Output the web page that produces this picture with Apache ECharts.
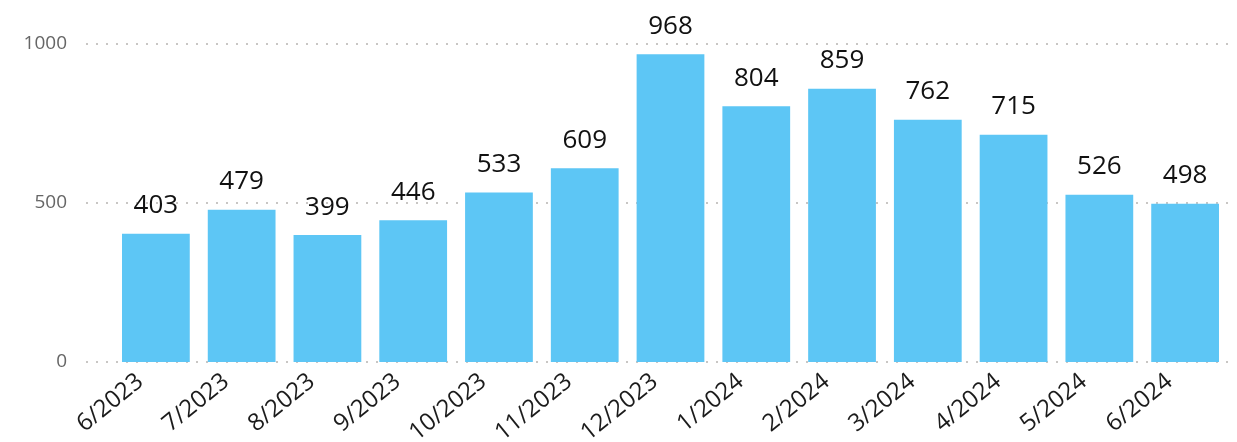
<!DOCTYPE html>
<html>
<head>
<meta charset="utf-8">
<script src="https://cdn.jsdelivr.net/npm/echarts@6/dist/echarts.min.js"></script>
<style>
  html, body { margin: 0; padding: 0; background: #fff; }
</style>
</head>
<body>
<div id="chart" style="width: 1237px; height: 442px"></div>
<script>
// month categories and counts
const months = ["6/2023", "7/2023", "8/2023", "9/2023", "10/2023", "11/2023", "12/2023",
  "1/2024", "2/2024", "3/2024", "4/2024", "5/2024", "6/2024"];
const counts = [403, 479, 399, 446, 533, 609, 968, 804, 859, 762, 715, 526, 498];
const yTicks = [0, 500, 1000];

const font = "'Open Sans', 'Noto Sans', sans-serif";
const chart = echarts.init(document.getElementById("chart"));

const option = {
  animation: false,
  grid: [
    // grid 0: only the y labels and dotted grid lines (spans a bit wider)
    { left: 86, right: 6, top: 44, bottom: 80, outerBoundsMode: "none" },
    // grid 1: the bars
    { left: 113, right: 9, top: 44, bottom: 80, outerBoundsMode: "none" },
  ],
  xAxis: [
    { gridIndex: 0, type: "value", show: false },
    {
      gridIndex: 1,
      type: "category",
      data: months,
      axisLine: { show: false },
      axisTick: { show: false },
      axisLabel: {
        rotate: 39,
        interval: 0,
        margin: 4,
        fontSize: 24,
        fontFamily: font,
        color: "#1b1b1b",
        padding: [0, 20, 0, 0],
      },
    },
  ],
  yAxis: [
    {
      gridIndex: 0,
      type: "value",
      min: yTicks[0],
      max: yTicks[yTicks.length - 1],
      interval: 500,
      axisLine: { show: false },
      axisTick: { show: false },
      axisLabel: {
        margin: 19,
        fontSize: 19,
        fontFamily: font,
        color: "#666666",
        formatter: (v) => String(v),
      },
      splitLine: {
        lineStyle: { color: "#C8C6C4", type: [2, 8], width: 2 },
      },
    },
    {
      gridIndex: 1,
      type: "value",
      min: yTicks[0],
      max: yTicks[yTicks.length - 1],
      show: false,
    },
  ],
  series: [
    {
      type: "bar",
      xAxisIndex: 1,
      yAxisIndex: 1,
      data: counts,
      barCategoryGap: "21%",
      itemStyle: { color: "#5DC6F5" },
      label: {
        show: true,
        position: "top",
        distance: 15,
        fontSize: 26,
        fontFamily: font,
        color: "#111",
      },
    },
  ],
};
chart.setOption(option);
</script>
</body>
</html>
